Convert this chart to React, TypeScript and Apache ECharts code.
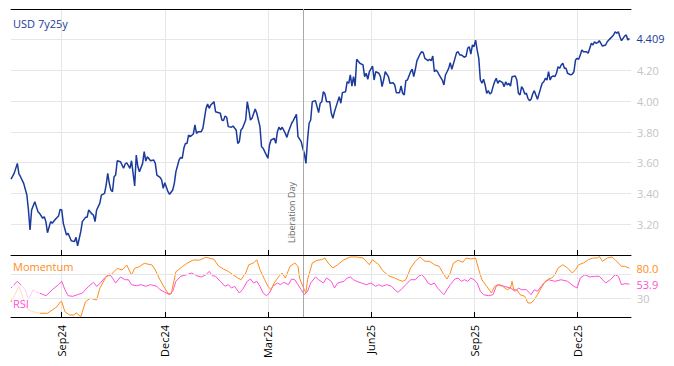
import React, { useEffect, useRef } from 'react';
import * as echarts from 'echarts';

// ---- axis definition (weekday slots) ----
const FIRST_DAY = '2024-07-18';
const SLOT_COUNT = 392;
const QUARTER_MONTHS = [2, 5, 8, 11];
const MONTH_NAMES = ['Jan', 'Feb', 'Mar', 'Apr', 'May', 'Jun', 'Jul', 'Aug', 'Sep', 'Oct', 'Nov', 'Dec'];
const EVENT_DATE = '2025-04-02';
const EVENT_LABEL = 'Liberation Day';
const TITLE = 'USD 7y25y';
const PRICE_MIN = 3.0;
const PRICE_MAX = 4.6;
const PRICE_STEP = 0.2;
const OSC_LEVELS = [30, 70];

// ---- USD 7y25y (weekday slot index, value) ----
const priceIdx = [0, 2, 4, 5, 6, 8, 10, 11, 12, 13, 15, 17, 18, 20, 21, 22, 23, 25, 26, 28, 30, 31, 32, 33, 35, 36, 38, 40, 41, 42, 44, 45, 47, 48, 49, 51, 52, 53, 54, 56, 57, 59, 60, 61, 62, 63, 64, 65, 66, 67, 69, 71, 72, 73, 75, 76, 78, 79, 80, 81, 83, 84, 85, 86, 88, 90, 91, 92, 94, 95, 96, 97, 99, 100, 102, 103, 104, 106, 107, 108, 109, 110, 111, 112, 113, 115, 116, 117, 118, 120, 121, 123, 124, 125, 126, 128, 129, 130, 132, 133, 134, 135, 136, 137, 139, 140, 142, 143, 144, 145, 146, 148, 149, 150, 151, 152, 154, 155, 157, 158, 159, 160, 162, 163, 164, 166, 167, 168, 169, 170, 171, 173, 174, 175, 177, 178, 180, 181, 183, 184, 185, 186, 187, 188, 189, 190, 192, 193, 194, 195, 196, 197, 198, 199, 201, 202, 203, 204, 205, 207, 208, 209, 211, 212, 213, 214, 215, 216, 217, 218, 220, 221, 222, 223, 224, 225, 226, 228, 229, 230, 232, 233, 234, 235, 236, 238, 239, 241, 242, 243, 245, 246, 247, 248, 249, 250, 252, 253, 254, 255, 256, 258, 259, 260, 261, 263, 264, 265, 266, 267, 268, 269, 270, 272, 273, 274, 275, 276, 277, 278, 280, 281, 282, 283, 284, 286, 287, 288, 289, 290, 291, 292, 293, 294, 295, 296, 297, 298, 299, 300, 301, 302, 303, 304, 305, 306, 307, 308, 310, 311, 312, 313, 314, 315, 316, 318, 319, 320, 321, 322, 323, 324, 325, 326, 327, 328, 329, 330, 331, 332, 334, 335, 336, 337, 338, 339, 340, 341, 342, 343, 344, 345, 346, 347, 348, 349, 350, 351, 353, 354, 355, 356, 357, 358, 359, 360, 361, 363, 364, 366, 367, 368, 369, 370, 371, 372, 373, 375, 376, 377, 378, 379, 380, 381, 382, 383, 384, 385, 386, 387, 388, 389, 390];
const priceVal = [3.494, 3.531, 3.596, 3.527, 3.509, 3.466, 3.39, 3.293, 3.163, 3.293, 3.347, 3.282, 3.271, 3.239, 3.249, 3.217, 3.145, 3.217, 3.206, 3.232, 3.254, 3.297, 3.293, 3.206, 3.13, 3.141, 3.093, 3.087, 3.115, 3.06, 3.152, 3.217, 3.245, 3.245, 3.293, 3.267, 3.26, 3.217, 3.293, 3.336, 3.39, 3.401, 3.455, 3.531, 3.466, 3.423, 3.412, 3.509, 3.52, 3.613, 3.607, 3.564, 3.592, 3.6, 3.564, 3.613, 3.449, 3.65, 3.574, 3.542, 3.596, 3.672, 3.611, 3.639, 3.613, 3.618, 3.596, 3.52, 3.505, 3.488, 3.434, 3.47, 3.412, 3.395, 3.423, 3.466, 3.542, 3.618, 3.635, 3.629, 3.694, 3.726, 3.726, 3.78, 3.77, 3.787, 3.846, 3.791, 3.802, 3.802, 3.824, 3.954, 3.982, 3.954, 3.976, 3.997, 3.932, 3.928, 3.922, 3.878, 3.874, 3.904, 3.896, 3.835, 3.831, 3.839, 3.813, 3.726, 3.737, 3.813, 3.824, 3.878, 3.997, 3.943, 3.878, 3.889, 3.95, 3.922, 3.835, 3.704, 3.694, 3.672, 3.629, 3.715, 3.748, 3.759, 3.726, 3.802, 3.831, 3.813, 3.831, 3.791, 3.765, 3.802, 3.857, 3.874, 3.915, 3.77, 3.737, 3.694, 3.661, 3.596, 3.748, 3.857, 3.878, 3.997, 4.004, 3.965, 3.926, 3.987, 3.997, 4.062, 4.047, 3.997, 3.997, 3.922, 3.889, 3.932, 3.965, 4.03, 3.987, 4.056, 4.062, 4.127, 4.117, 4.171, 4.099, 4.16, 4.099, 4.273, 4.247, 4.242, 4.236, 4.16, 4.182, 4.143, 4.192, 4.229, 4.138, 4.192, 4.182, 4.16, 4.095, 4.138, 4.192, 4.16, 4.117, 4.121, 4.106, 4.056, 4.056, 4.099, 4.052, 4.041, 4.134, 4.138, 4.192, 4.208, 4.16, 4.208, 4.264, 4.307, 4.322, 4.316, 4.279, 4.264, 4.273, 4.264, 4.294, 4.192, 4.203, 4.192, 4.171, 4.138, 4.106, 4.171, 4.192, 4.214, 4.251, 4.208, 4.279, 4.316, 4.322, 4.301, 4.301, 4.286, 4.294, 4.344, 4.355, 4.307, 4.366, 4.355, 4.398, 4.333, 4.279, 4.138, 4.117, 4.143, 4.106, 4.052, 4.069, 4.047, 4.056, 4.095, 4.127, 4.149, 4.117, 4.134, 4.121, 4.095, 4.127, 4.106, 4.117, 4.099, 4.16, 4.164, 4.138, 4.052, 4.041, 4.095, 4.078, 4.047, 4.052, 4.019, 4.004, 4.013, 4.047, 4.069, 4.041, 4.013, 4.084, 4.117, 4.127, 4.149, 4.138, 4.192, 4.138, 4.16, 4.164, 4.16, 4.182, 4.225, 4.214, 4.236, 4.247, 4.214, 4.214, 4.182, 4.171, 4.177, 4.192, 4.268, 4.279, 4.273, 4.301, 4.333, 4.322, 4.322, 4.312, 4.377, 4.366, 4.387, 4.377, 4.381, 4.394, 4.377, 4.359, 4.366, 4.387, 4.398, 4.409, 4.42, 4.431, 4.452, 4.442, 4.452, 4.42, 4.394, 4.409, 4.424, 4.431, 4.398, 4.409];

// ---- Momentum (0-100) ----
const momIdx = [0, 3, 5, 7, 9, 11, 14, 18, 23, 26, 29, 31, 32, 34, 37, 40, 41, 44, 47, 50, 54, 56, 60, 63, 67, 70, 73, 76, 78, 81, 84, 89, 91, 94, 97, 99, 101, 104, 108, 111, 115, 119, 123, 128, 131, 134, 137, 140, 143, 145, 148, 150, 153, 155, 157, 160, 162, 164, 166, 169, 171, 173, 176, 179, 181, 182, 184, 186, 187, 190, 193, 196, 198, 200, 203, 206, 210, 214, 218, 222, 224, 226, 228, 232, 234, 236, 239, 242, 245, 247, 249, 252, 255, 258, 261, 264, 267, 270, 273, 275, 277, 279, 282, 285, 287, 290, 293, 295, 297, 300, 303, 305, 307, 310, 313, 315, 316, 317, 319, 321, 324, 326, 328, 330, 332, 335, 337, 339, 341, 343, 345, 348, 351, 354, 356, 358, 361, 364, 367, 370, 371, 373, 376, 379, 381, 383, 385, 387, 390];
const momVal = [24.6, 39.3, 50, 36.1, 19.7, 11.5, 8.7, 6.1, 6.1, 11.5, 16.9, 24.6, 25.1, 8.7, 3.3, 3.3, 7, 0.5, 25.1, 30.7, 27.9, 47, 66.1, 68.9, 79.8, 77, 85.2, 68.9, 79.8, 82.5, 88, 85.2, 77, 60.7, 47, 38.9, 37.7, 74.3, 82.5, 88, 93.4, 93.4, 97.9, 94.6, 83.1, 78.7, 74.9, 69.3, 63.9, 61.1, 72.1, 85.7, 88.5, 93.9, 77.5, 61.1, 50.3, 44.8, 55.7, 66.7, 72.1, 63.9, 83.1, 88.5, 83.1, 63.9, 50.3, 39.3, 61.1, 88.5, 93, 93.9, 96.7, 88.5, 80.3, 85.7, 93.9, 98.4, 98.4, 96.7, 91.3, 85.7, 93.9, 85.7, 77.5, 72.1, 66.7, 63.9, 60.2, 58.5, 61.1, 80.3, 91.3, 98.4, 91.3, 91.3, 85.7, 83.1, 69.3, 62.3, 72.1, 88.5, 93, 89.7, 96.7, 95.1, 96.7, 77.5, 61.1, 50.3, 39.3, 50.3, 53, 50.3, 44.8, 47.5, 58.5, 44.8, 44.8, 36.6, 33.9, 23, 23, 28.4, 36.6, 50.3, 58.5, 62.3, 63.9, 69.3, 80.3, 85.7, 80.3, 72.1, 77.5, 85.7, 88.5, 93.9, 96.7, 96.7, 99.5, 91.3, 96.7, 98.4, 93.9, 88.5, 83.1, 83.1, 80.0];

// ---- RSI (0-100) ----
const rsiIdx = [0, 4, 9, 11, 14, 16, 19, 22, 24, 26, 30, 32, 34, 36, 39, 42, 45, 49, 52, 54, 56, 59, 62, 64, 66, 69, 72, 74, 76, 79, 82, 85, 88, 92, 94, 97, 100, 102, 104, 107, 111, 114, 117, 120, 123, 125, 127, 129, 132, 135, 137, 139, 141, 144, 146, 149, 151, 153, 155, 157, 159, 161, 163, 165, 168, 170, 172, 175, 177, 179, 181, 183, 185, 187, 189, 192, 194, 197, 199, 202, 204, 206, 210, 212, 214, 216, 218, 221, 224, 227, 230, 232, 234, 237, 240, 242, 244, 246, 249, 252, 255, 257, 259, 261, 263, 265, 267, 269, 273, 275, 277, 280, 282, 284, 286, 288, 290, 292, 294, 296, 298, 301, 304, 306, 308, 311, 315, 318, 320, 322, 325, 328, 330, 332, 336, 339, 343, 347, 351, 355, 357, 359, 362, 365, 368, 371, 375, 378, 381, 383, 385, 387, 390];
const rsiVal = [47.5, 58.5, 44.8, 28.4, 44.8, 40.5, 38.2, 34.9, 39.3, 44.8, 53, 58.5, 44.8, 34.9, 33.9, 36.6, 39.3, 50.3, 56.9, 50.3, 54.6, 63.9, 71, 63.9, 55.7, 65.6, 61.1, 61.1, 53, 51.3, 53, 50.3, 53, 50.3, 44.8, 40.5, 36.6, 42.1, 58.5, 66.7, 69.3, 72.1, 67.7, 65.6, 69.3, 74.9, 67.7, 66.7, 58.5, 50.3, 53, 47.5, 50.3, 39.3, 44.8, 58.5, 62.3, 55.7, 58.5, 50.3, 39.3, 34.9, 39.3, 50.3, 55.7, 53, 56.9, 53, 62.3, 61.1, 53, 44.8, 36.6, 42.1, 55.7, 65.6, 61.1, 55.7, 63.9, 58.5, 47.5, 55.7, 58.5, 63.9, 65.6, 61.1, 58.5, 55.7, 53, 55.7, 50.3, 53, 50.3, 53, 50.3, 44.8, 40.5, 44.8, 53, 61.1, 61.1, 66.7, 69.3, 63.9, 55.7, 53, 55.7, 47.5, 36.6, 44.8, 53, 62.3, 63.9, 58.5, 61.1, 58.5, 63.9, 61.1, 55.7, 42.1, 36.6, 34.9, 36.6, 50.3, 53, 50.3, 47.5, 42.1, 47.5, 44.8, 44.8, 36.6, 44.8, 42.1, 55.7, 61.1, 58.5, 61.1, 58.5, 50.3, 47.5, 63.9, 69.3, 65.6, 66.7, 66.7, 55.7, 61.1, 69.3, 66.7, 53, 54.6, 53.9];

const BLUE = '#1a3a9c';
const ORANGE = '#ff8c1a';
const PINK = '#ff4fd8';
const GRID_GRAY = '#e6e6e6';
const LABEL_GRAY = '#c4c4c4';
const FONT = '"Open Sans", "Noto Sans", sans-serif';

function weekdaySlots(start: string, n: number): string[] {
  const out: string[] = [];
  let t = Date.parse(start + 'T00:00:00Z');
  while (out.length < n) {
    const d = new Date(t);
    const wd = d.getUTCDay();
    if (wd !== 0 && wd !== 6) out.push(d.toISOString().slice(0, 10));
    t += 86400000;
  }
  return out;
}

function fill(idx: number[], val: number[], n: number): (number | null)[] {
  const a: (number | null)[] = new Array(n).fill(null);
  idx.forEach((i, k) => { a[i] = val[k]; });
  return a;
}

export default function App() {
  const ref = useRef<HTMLDivElement>(null);

  useEffect(() => {
    if (!ref.current) return;
    const chart = echarts.init(ref.current, undefined, { renderer: 'svg' });

    const cats = weekdaySlots(FIRST_DAY, SLOT_COUNT);
    const quarterSet = new Set<number>();
    cats.forEach((c, i) => {
      if (i === 0) return;
      const m = +c.slice(5, 7) - 1;
      const pm = +cats[i - 1].slice(5, 7) - 1;
      if (m !== pm && QUARTER_MONTHS.includes(m)) quarterSet.add(i);
    });
    const isQ = (i: number) => quarterSet.has(i);
    const fmtLabel = (v: string) => MONTH_NAMES[+v.slice(5, 7) - 1] + v.slice(2, 4);

    const baseX = {
      type: 'category' as const,
      data: cats,
      boundaryGap: false,
    };

    const option: any = {
      animation: false,
      textStyle: { fontFamily: FONT },
      grid: [
        { left: 11, right: 43, top: 9, height: 246, outerBoundsMode: 'none' },
        { left: 11, right: 43, top: 256, height: 61, outerBoundsMode: 'none' },
      ],
      xAxis: [
        {
          ...baseX, gridIndex: 0, position: 'bottom',
          axisLine: { show: true, lineStyle: { color: '#000', width: 1 } },
          axisTick: { show: true, inside: true, length: 5, interval: (i: number) => isQ(i), lineStyle: { color: '#000' } },
          axisLabel: { show: false },
          splitLine: { show: true, interval: (i: number) => isQ(i), lineStyle: { color: GRID_GRAY, width: 1 } },
        },
        {
          ...baseX, gridIndex: 0, position: 'top',
          axisLine: { show: true, lineStyle: { color: '#000', width: 1 } },
          axisTick: { show: false }, axisLabel: { show: false }, splitLine: { show: false },
        },
        {
          ...baseX, gridIndex: 1, position: 'bottom',
          axisLine: { show: true, lineStyle: { color: '#000', width: 1 } },
          axisTick: { show: true, inside: true, length: 5, interval: (i: number) => isQ(i), lineStyle: { color: '#000' } },
          axisLabel: {
            show: true, interval: (i: number) => isQ(i), rotate: 90, margin: 8,
            fontSize: 11, color: '#000', fontFamily: FONT, formatter: fmtLabel,
          },
          splitLine: { show: true, interval: (i: number) => isQ(i), lineStyle: { color: GRID_GRAY, width: 1 } },
        },
      ],
      yAxis: [
        {
          type: 'value', gridIndex: 0, position: 'right',
          min: PRICE_MIN, max: PRICE_MAX, interval: PRICE_STEP,
          axisLine: { show: false }, axisTick: { show: false },
          axisLabel: {
            show: true, margin: 6, fontSize: 11, color: LABEL_GRAY, fontFamily: FONT,
            showMinLabel: false, showMaxLabel: false,
            formatter: (v: number) => (Math.abs(v - 4.4) < 1e-6 ? '' : v.toFixed(2)),
          },
          splitLine: { show: true, lineStyle: { color: GRID_GRAY, width: 1 } },
        },
        {
          type: 'value', gridIndex: 1, position: 'right',
          min: 0, max: 100, interval: 10,
          axisLine: { show: false }, axisTick: { show: false },
          axisLabel: {
            show: true, margin: 6, fontSize: 11, color: LABEL_GRAY, fontFamily: FONT,
            formatter: (v: number) => (v === OSC_LEVELS[0] ? String(v) : ''),
          },
          splitLine: { show: false },
        },
      ],
      series: [
        {
          name: TITLE, type: 'line', xAxisIndex: 0, yAxisIndex: 0,
          data: fill(priceIdx, priceVal, SLOT_COUNT), connectNulls: true,
          showSymbol: false, symbol: 'none', color: BLUE,
          lineStyle: { color: BLUE, width: 1.5 }, z: 3,
          endLabel: {
            show: true, distance: 7, color: BLUE, fontSize: 11, fontFamily: FONT,
            formatter: (p: any) => Number(Array.isArray(p.value) ? p.value[1] : p.value).toFixed(3),
          },
          markLine: {
            silent: true, symbol: ['none', 'none'], animation: false,
            data: [{
              xAxis: EVENT_DATE,
              lineStyle: { color: '#a8a8a8', type: 'solid', width: 1 },
              label: {
                show: true, position: 'insideStartTop', formatter: EVENT_LABEL,
                distance: [12, 7], color: '#666', fontSize: 9, fontFamily: FONT,
              },
            }],
          },
        },
        {
          name: 'RSI', type: 'line', xAxisIndex: 2, yAxisIndex: 1,
          data: fill(rsiIdx, rsiVal, SLOT_COUNT), connectNulls: true,
          showSymbol: false, symbol: 'none', color: PINK,
          lineStyle: { color: PINK, width: 1 }, z: 3,
          endLabel: {
            show: true, distance: 7, color: PINK, fontSize: 11, fontFamily: FONT,
            formatter: (p: any) => Number(Array.isArray(p.value) ? p.value[1] : p.value).toFixed(1),
          },
          markLine: {
            silent: true, symbol: ['none', 'none'], animation: false,
            label: { show: false },
            data: [
              ...OSC_LEVELS.map((lv) => ({ yAxis: lv, lineStyle: { color: GRID_GRAY, type: 'solid', width: 1 } })),
              { xAxis: EVENT_DATE, lineStyle: { color: '#a8a8a8', type: 'solid', width: 1 } },
            ],
          },
        },
        {
          name: 'Momentum', type: 'line', xAxisIndex: 2, yAxisIndex: 1,
          data: fill(momIdx, momVal, SLOT_COUNT), connectNulls: true,
          showSymbol: false, symbol: 'none', color: ORANGE,
          lineStyle: { color: ORANGE, width: 1 }, z: 4,
          endLabel: {
            show: true, distance: 7, color: ORANGE, fontSize: 11, fontFamily: FONT,
            formatter: (p: any) => Number(Array.isArray(p.value) ? p.value[1] : p.value).toFixed(1),
          },
        },
      ],
      graphic: [
        { type: 'text', left: 13, top: 18, z: 100, style: { text: TITLE, fill: BLUE, font: `11px ${FONT}` } },
        { type: 'text', left: 13, top: 261, z: 100, style: { text: 'Momentum', fill: ORANGE, font: `11px ${FONT}` } },
        { type: 'rect', left: 12, top: 285, z: 99, shape: { width: 28, height: 31 }, style: { fill: 'rgba(255,255,255,0.7)' } },
        { type: 'text', left: 13, top: 298, z: 100, style: { text: 'RSI', fill: PINK, font: `11px ${FONT}` } },
      ],
    };

    chart.setOption(option);
    return () => chart.dispose();
  }, []);

  return (
    <div
      ref={ref}
      style={{ position: 'fixed', left: 0, top: 0, width: 674, height: 366, background: '#fff' }}
    />
  );
}
